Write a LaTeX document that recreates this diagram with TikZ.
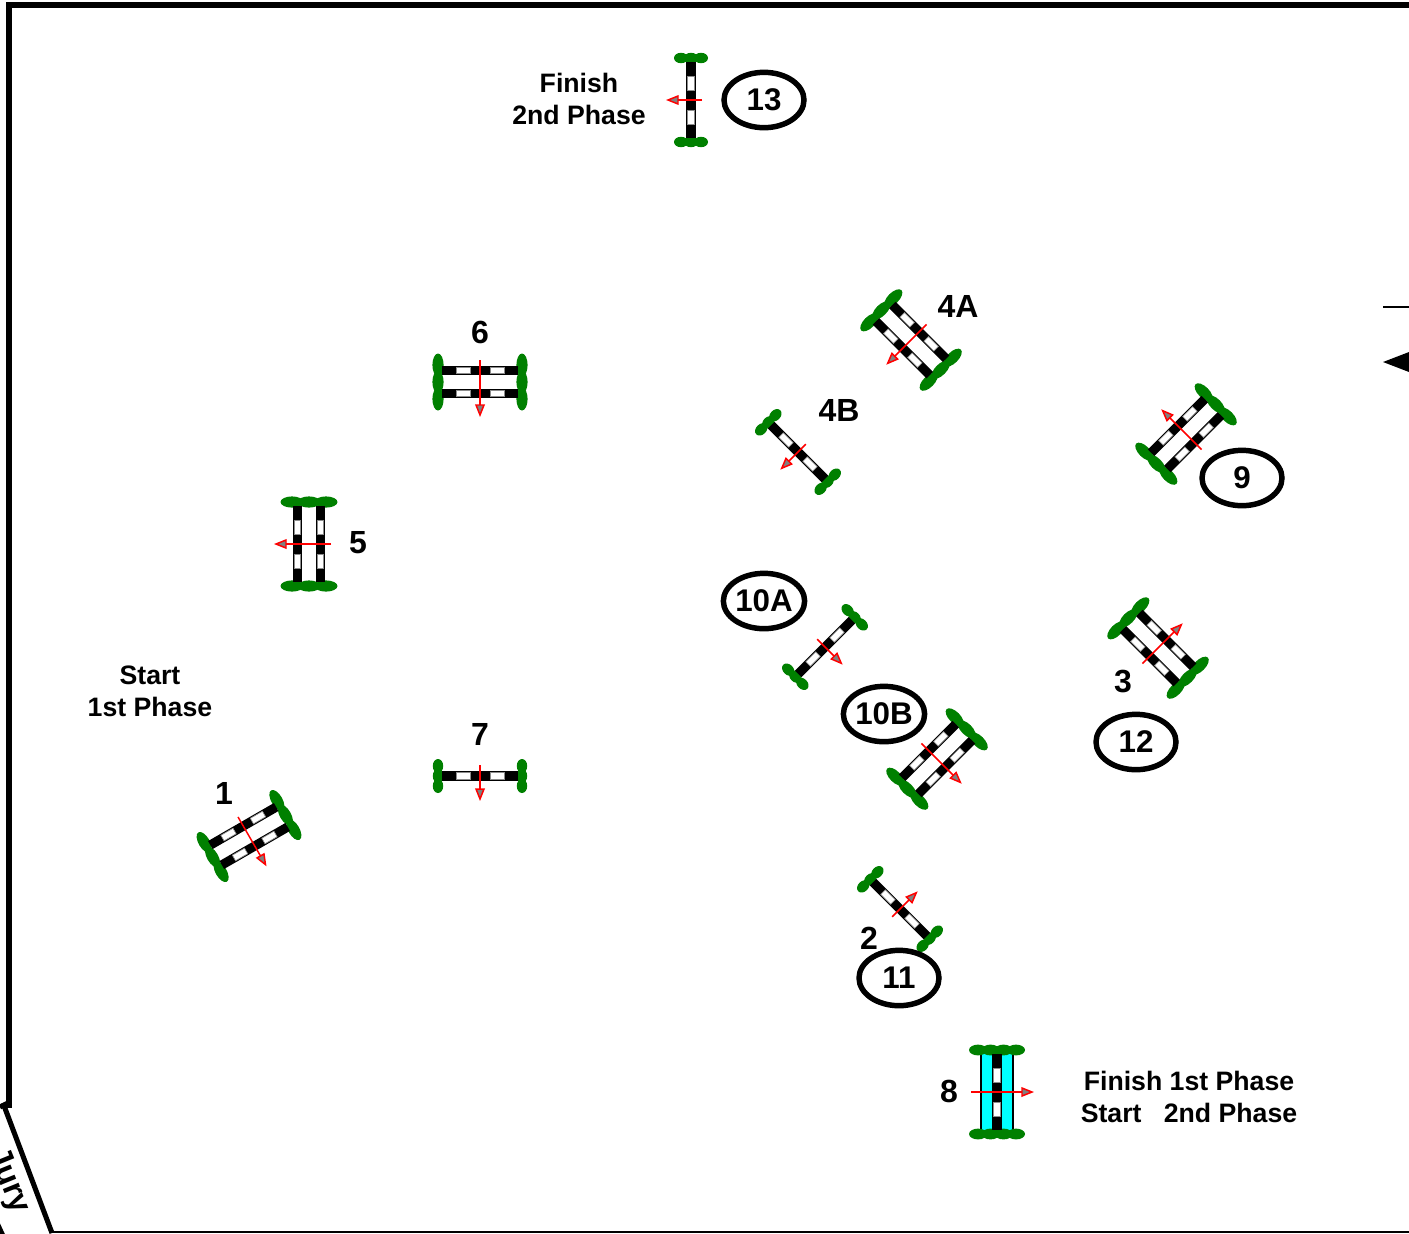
\documentclass[tikz,border=0pt]{standalone}
\usepackage{fontspec}
\setmainfont{Liberation Sans}
\definecolor{shrubgreen}{RGB}{0,128,0}
\definecolor{watercyan}{RGB}{0,255,255}
\definecolor{headgray}{RGB}{128,128,128}
\tikzset{
  px/.style={x=0.75pt,y=-0.75pt},
  railblack/.style={fill=black,draw=none},
  railwhite/.style={fill=white,draw=black!45,line width=0.5pt},
  shrub/.style={fill=shrubgreen,draw=none},
  flag/.style={draw=red,line width=1.1pt},
  flaghead/.style={draw=red,fill=headgray,line width=1.1pt,line join=miter},
  smalltxt/.style={font=\fontsize{20}{24}\selectfont\bfseries,align=center,inner sep=0pt},
  numtxt/.style={font=\fontsize{24}{28}\selectfont\bfseries,inner sep=0pt},
  ovaltxt/.style={draw=black,line width=4.1pt,ellipse,font=\fontsize{23.5}{28}\selectfont\bfseries,inner sep=0pt,minimum width=60pt,minimum height=41.5pt},
  wall/.style={line width=3.8pt,draw=black}
}
\usetikzlibrary{shapes.geometric}
\newcommand{\jumprail}[1]{%
  \fill[railblack] (-38,#1-4.6) rectangle (38,#1+4.6);
  \draw[railwhite] (-24,#1-3.2) rectangle (-10,#1+3.2);
  \draw[railwhite] (10,#1-3.2) rectangle (24,#1+3.2);
}
\newcommand{\flagarrow}[2]{%
  \draw[flag] (0,#1) -- (0,#2-8);
  \draw[flaghead] (0,#2-1) -- (-4,#2-11) -- (4,#2-11) -- cycle;
}
\newcommand{\singlejump}[3]{%
  \begin{scope}[shift={(#1,#2)},rotate=#3]
    \foreach \sx in {-42,42}{\foreach \sy in {-10,0,10}{\fill[shrub] (\sx,\sy) ellipse [x radius=5.2,y radius=7];}}
    \jumprail{0}
    \flagarrow{-11}{24}
  \end{scope}}
\newcommand{\oxerjump}[3]{%
  \begin{scope}[shift={(#1,#2)},rotate=#3]
    \foreach \sx in {-42,42}{\foreach \sy in {-17,0,17}{\fill[shrub] (\sx,\sy) ellipse [x radius=5.6,y radius=11.5];}}
    \jumprail{-11.5}
    \jumprail{11.5}
    \flagarrow{-22}{34}
  \end{scope}}
\begin{document}
\begin{tikzpicture}[px]
\useasboundingbox (0,0) rectangle (1409,1233);
\clip (0,0) rectangle (1409,1233);
\fill[white] (0,0) rectangle (1409,1233);
% arena
\draw[wall] (9,1108) -- (9,5) -- (1409,5);
\draw[black,line width=1.5pt] (52,1232) -- (1409,1232);
\draw[wall] (0,1107) -- (8,1103);
\draw[wall] (3,1103) -- (52,1233);
\draw[wall] (-3,1223) -- (3,1236);
\node[rotate=-68,font=\fontsize{24}{28}\selectfont\bfseries,inner sep=0pt] (jury) at (8,1181) {Jury};
% north marker
\coordinate (na) at (1383,307);
\coordinate (nb) at (1409,307);
\draw[black,line width=1.2pt] (na) -- (nb);
\fill[black] (1383,362) -- (1409,352) -- (1409,372) -- cycle;
% jumps
\singlejump{691}{100}{-90}
\oxerjump{911}{340}{-45}
\singlejump{798}{452}{-45}
\oxerjump{1186}{434}{-135}
\oxerjump{480}{382}{0}
\oxerjump{309}{544}{-90}
\singlejump{825}{647}{45}
\oxerjump{937}{759}{45}
\oxerjump{1158}{648}{135}
\singlejump{480}{776}{0}
\oxerjump{249}{836}{30}
\singlejump{900}{909}{135}
% water jump 8
\begin{scope}[shift={(997,1092)},rotate=90]
  \fill[watercyan] (-42,-16) rectangle (42,16);
  \draw[black,line width=1.2pt] (-42,-16) -- (42,-16) (-42,16) -- (42,16);
  \foreach \sx in {-42,42}{\foreach \sy in {-19,-6.5,6.5,19}{\fill[shrub] (\sx,\sy) ellipse [x radius=5.4,y radius=9];}}
  \jumprail{0}
  \flagarrow{-26}{36}
\end{scope}
% ovals
\node[ovaltxt] (o13) at (764,100) {13};
\node[ovaltxt] (o9) at (1242,478) {9};
\node[ovaltxt] (o10a) at (764,601) {10A};
\node[ovaltxt] (o10b) at (884,714) {10B};
\node[ovaltxt] (o12) at (1136,742) {12};
\node[ovaltxt] (o11) at (899,978) {11};
% labels
\node[smalltxt] (finish2) at (579,99) {Finish\\2nd Phase};
\node[smalltxt] (start1) at (150,691) {Start\\1st Phase};
\node[smalltxt] (fin8) at (1189,1097) {Finish 1st Phase\\Start\ \ \ 2nd Phase};
\node[numtxt] (l4a) at (958,306) {4A};
\node[numtxt] (l6) at (480,332) {6};
\node[numtxt] (l4b) at (839,410) {4B};
\node[numtxt] (l5) at (358,543) {5};
\node[numtxt] (l3) at (1123,681) {3};
\node[numtxt] (l7) at (480,734) {7};
\node[numtxt] (l1) at (224,793) {1};
\node[numtxt] (l2) at (869,938) {2};
\node[numtxt] (l8) at (949,1091) {8};
\end{tikzpicture}
\end{document}
